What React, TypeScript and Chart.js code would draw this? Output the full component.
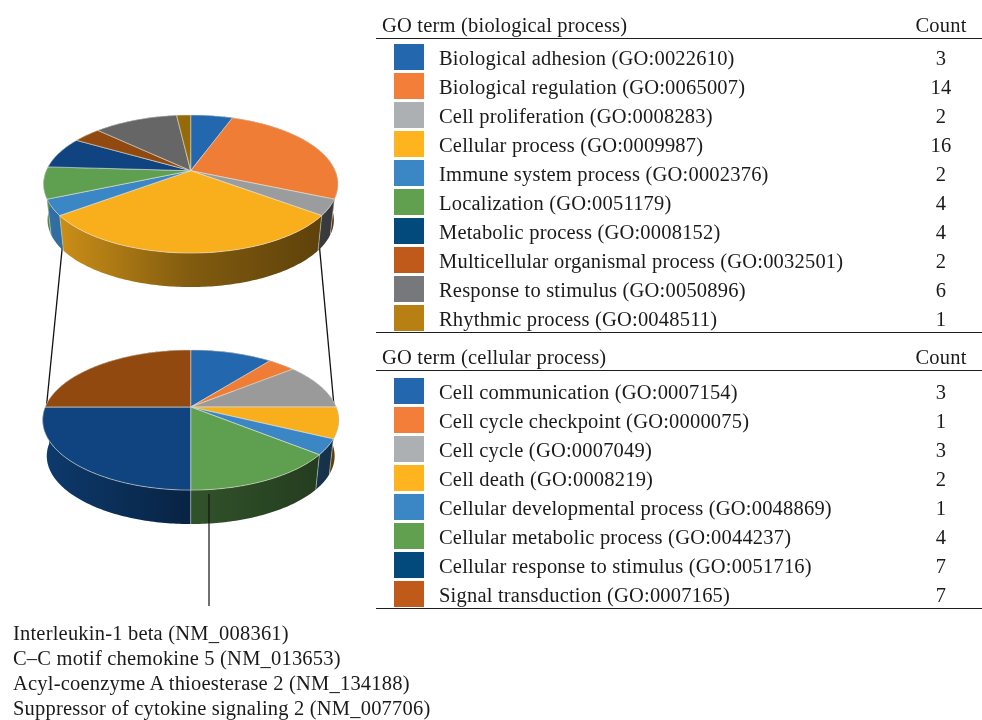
import React, { useEffect, useRef } from "react";
import { Chart, registerables } from "chart.js";

Chart.register(...registerables);

const bioTerms = [
  "Biological adhesion (GO:0022610)",
  "Biological regulation (GO:0065007)",
  "Cell proliferation (GO:0008283)",
  "Cellular process (GO:0009987)",
  "Immune system process (GO:0002376)",
  "Localization (GO:0051179)",
  "Metabolic process (GO:0008152)",
  "Multicellular organismal process (GO:0032501)",
  "Response to stimulus (GO:0050896)",
  "Rhythmic process (GO:0048511)",
];
const bioCounts = [3, 14, 2, 16, 2, 4, 4, 2, 6, 1];
const bioPieColors = ["#2367ae", "#ef7d36", "#9a9c9e", "#f9af1c", "#3b86c5", "#5f9f50", "#0f4480", "#92490f", "#666666", "#946a0a"];
const bioSwatches = ["#2367ae", "#f27e3a", "#adb0b2", "#fdb41f", "#3b86c5", "#61a04f", "#024a7c", "#c05a1a", "#77787b", "#b87f13"];
const bioRows = [58, 87, 116, 145, 174, 203, 232, 261, 290, 319];

const cellTerms = [
  "Cell communication (GO:0007154)",
  "Cell cycle checkpoint (GO:0000075)",
  "Cell cycle (GO:0007049)",
  "Cell death (GO:0008219)",
  "Cellular developmental process (GO:0048869)",
  "Cellular metabolic process (GO:0044237)",
  "Cellular response to stimulus (GO:0051716)",
  "Signal transduction (GO:0007165)",
];
const cellCounts = [3, 1, 3, 2, 1, 4, 7, 7];
const cellPieColors = ["#2367ae", "#ef7d36", "#9a9a9a", "#f9af1c", "#3b86c5", "#5f9f50", "#0f4480", "#92490f"];
const cellSwatches = ["#2367ae", "#f27e3a", "#adb0b2", "#fdb41f", "#3b86c5", "#61a04f", "#024a7c", "#c05a1a"];
const cellRows = [392, 421, 450, 479, 508, 537, 566, 595];

const genes = [
  "Interleukin-1 beta (NM_008361)",
  "C\u2013C motif chemokine 5 (NM_013653)",
  "Acyl-coenzyme A thioesterase 2 (NM_134188)",
  "Suppressor of cytokine signaling 2 (NM_007706)",
];
const geneRows = [633, 658, 683, 708];

const FONT = '"Liberation Serif", serif';
const TXT = "#1a1a1a";

function shade(hex: string, f: number) {
  const n = parseInt(hex.slice(1), 16);
  const r = Math.round(((n >> 16) & 255) * f);
  const g = Math.round(((n >> 8) & 255) * f);
  const b = Math.round((n & 255) * f);
  return `rgb(${r},${g},${b})`;
}

type View = { cx: number; cy: number; R: number; k: number; p: number; s: number; d: number };

const disc3d = {
  id: "disc3d",
  beforeDatasetDraw(chart: any, args: any, opts: any) {
    const { cx, cy, R, k, p, s, d } = opts as View;
    const ctx = chart.ctx as CanvasRenderingContext2D;
    const arcs = args.meta.data as any[];
    const colors = chart.data.datasets[0].backgroundColor as string[];
    const top = (t: number): [number, number] => {
      const u = Math.cos(t), v = Math.sin(t), w = 1 - p * v;
      return [cx + (R * u) / w, cy + (R * k * v) / w];
    };
    const low = (t: number): [number, number] => {
      const [x, y] = top(t);
      return [cx + s * (x - cx), cy + s * (y - cy) + d];
    };
    const samples = (a: any) => {
      const out: number[] = [];
      const n = Math.max(4, Math.ceil((a.endAngle - a.startAngle) * 60));
      for (let i = 0; i <= n; i++) out.push(a.startAngle + ((a.endAngle - a.startAngle) * i) / n);
      return out;
    };
    const x0 = cx - R * 1.02, x1 = cx + R * 1.02;
    ctx.save();
    arcs.forEach((a, i) => {
      const ts = samples(a);
      const g = ctx.createLinearGradient(x0, 0, x1, 0);
      g.addColorStop(0, shade(colors[i], 0.85));
      g.addColorStop(0.5, shade(colors[i], 0.52));
      g.addColorStop(1, shade(colors[i], 0.36));
      ctx.beginPath();
      ts.forEach((t, j) => {
        const q = top(t);
        j ? ctx.lineTo(q[0], q[1]) : ctx.moveTo(q[0], q[1]);
      });
      ts.slice().reverse().forEach((t) => {
        const q = low(t);
        ctx.lineTo(q[0], q[1]);
      });
      ctx.closePath();
      ctx.fillStyle = g;
      ctx.fill();
    });
    arcs.forEach((a) => {
      const t = a.startAngle;
      if (Math.sin(t) > 0.02) {
        const q = top(t), r = low(t);
        ctx.beginPath();
        ctx.moveTo(q[0], q[1]);
        ctx.lineTo(r[0], r[1]);
        ctx.strokeStyle = "rgba(210,210,200,0.55)";
        ctx.lineWidth = 1;
        ctx.stroke();
      }
    });
    arcs.forEach((a, i) => {
      const ts = samples(a);
      ctx.beginPath();
      ctx.moveTo(cx, cy);
      ts.forEach((t) => {
        const q = top(t);
        ctx.lineTo(q[0], q[1]);
      });
      ctx.closePath();
      ctx.fillStyle = colors[i];
      ctx.fill();
      ctx.strokeStyle = "rgba(225,225,215,0.75)";
      ctx.lineWidth = 0.8;
      ctx.stroke();
    });
    ctx.restore();
    return false;
  },
};

function Pie({ values, labels, colors, top, view }: { values: number[]; labels: string[]; colors: string[]; top: number; view: View }) {
  const ref = useRef<HTMLCanvasElement>(null);
  useEffect(() => {
    const chart = new Chart(ref.current!, {
      type: "pie",
      data: { labels, datasets: [{ data: values, backgroundColor: colors }] },
      options: {
        animation: false,
        responsive: false,
        events: [],
        plugins: { legend: { display: false }, tooltip: { enabled: false }, disc3d: view } as any,
      },
      plugins: [disc3d],
    } as any);
    return () => chart.destroy();
  }, []);
  return <canvas ref={ref} width={370} height={240} style={{ position: "absolute", left: 0, top, width: 370, height: 240 }} />;
}

function Label({ x, y, text, anchor = "left" }: { x: number; y: number; text: string; anchor?: string }) {
  const style: React.CSSProperties = {
    position: "absolute",
    top: y - 14,
    height: 28,
    lineHeight: "28px",
    fontFamily: FONT,
    fontSize: 20.5,
    color: TXT,
    whiteSpace: "nowrap",
    letterSpacing: 0.2,
  };
  if (anchor === "center") {
    style.left = x - 40;
    style.width = 80;
    style.textAlign = "center";
  } else style.left = x;
  return <div style={style}>{text}</div>;
}

function Rule({ y }: { y: number }) {
  return <div style={{ position: "absolute", left: 376, width: 606, top: y, height: 1.2, background: "#1f1f1f" }} />;
}

function Rows({ terms, counts, swatches, rows }: { terms: string[]; counts: number[]; swatches: string[]; rows: number[] }) {
  return (
    <>
      {terms.map((t, i) => (
        <React.Fragment key={t}>
          <div style={{ position: "absolute", left: 394, top: rows[i] - 14, width: 30, height: 26, background: swatches[i] }} />
          <Label x={439} y={rows[i]} text={t} />
          <Label x={941} y={rows[i]} text={String(counts[i])} anchor="center" />
        </React.Fragment>
      ))}
    </>
  );
}

export default function App() {
  return (
    <div style={{ position: "absolute", left: 0, top: 0, width: 982, height: 720, overflow: "hidden", background: "#fff" }}>
      <svg width={982} height={720} style={{ position: "absolute", left: 0, top: 0 }}>
        <line x1={62.5} y1={245} x2={46.7} y2={404} stroke="#111" strokeWidth={1.3} />
        <line x1={319.3} y1={245} x2={334} y2={406} stroke="#111" strokeWidth={1.3} />
      </svg>
      <Pie values={bioCounts} labels={bioTerms} colors={bioPieColors} top={90}
        view={{ cx: 190.7, cy: 80.7, R: 144.5, k: 0.46, p: 0.193, s: 0.972, d: 36.3 }} />
      <Pie values={cellCounts} labels={cellTerms} colors={cellPieColors} top={330}
        view={{ cx: 190.7, cy: 77, R: 145.5, k: 0.465, p: 0.186, s: 0.972, d: 36.3 }} />
      <svg width={982} height={720} style={{ position: "absolute", left: 0, top: 0 }}>
        <line x1={209} y1={494} x2={209} y2={606} stroke="#111" strokeWidth={1.2} />
      </svg>

      <Label x={382} y={25} text="GO term (biological process)" />
      <Label x={941} y={25} text="Count" anchor="center" />
      <Rule y={38} />
      <Rows terms={bioTerms} counts={bioCounts} swatches={bioSwatches} rows={bioRows} />
      <Rule y={332} />
      <Label x={382} y={357} text="GO term (cellular process)" />
      <Label x={941} y={357} text="Count" anchor="center" />
      <Rule y={370} />
      <Rows terms={cellTerms} counts={cellCounts} swatches={cellSwatches} rows={cellRows} />
      <Rule y={608} />
      {genes.map((g, i) => (
        <Label key={g} x={13} y={geneRows[i]} text={g} />
      ))}
    </div>
  );
}
